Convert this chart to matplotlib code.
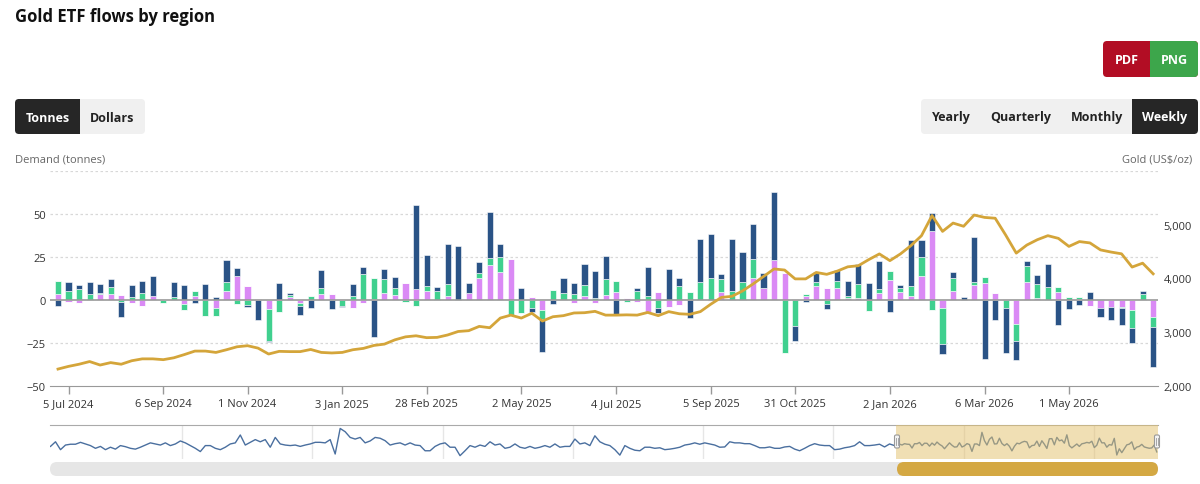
import numpy as np
import pandas as pd
import matplotlib
matplotlib.use("Agg")
import matplotlib.pyplot as plt
from matplotlib.patches import FancyBboxPatch, Rectangle
from matplotlib.ticker import FuncFormatter

# weekly flows (tonnes), first week 28 Jun 2024
start_date = "2024-06-28"
north_america = [-3.5, 5.3, 2.1, 7.0, 5.1, 4.5, -9.0, 7.0, 6.8, 11.5,
                 0.0, 8.8, 8.4, -2.0, 9.4, 1.6, 13.0, 4.5, -1.0, -11.5,
                 -0.8, 10.0, 1.2, -5.5, -4.5, 10.4, -5.3, -0.7, 7.2, 3.9,
                 -21.5, 5.7, 6.0, 0.0, 48.8, 18.2, 2.1, 23.2, 31.6, 5.9,
                 6.6, 27.0, 7.6, 0.0, 7.0, -2.5, -19.5, -2.5, 8.8, 6.6,
                 12.3, 15.6, 13.3, -8.2, 0.0, 1.6, 16.6, -3.0, 17.8, 4.9,
                 -10.5, 25.0, 25.6, 2.9, 30.3, 17.6, 20.7, 8.8, 39.6, 0.0,
                 -8.4, -1.4, 5.9, -3.0, 6.6, 8.6, 11.7, 9.6, 16.0, -7.2,
                 1.4, 27.3, 10.0, 10.2, -5.9, 3.5, 1.8, 26.6, -34.6, -11.7,
                 -26.0, -11.3, 2.7, 5.3, 13.7, -14.6, -5.5, -3.0, 4.5, -4.9,
                 -7.6, -9.8, -8.6, 2.3, -23.2]
europe = [7.6, 5.1, 6.4, 3.3, 0.8, 4.1, -1.0, 1.6, 3.9, 0.0,
          -1.8, 1.5, -3.9, 2.7, -9.2, -4.5, 5.1, -2.3, -3.0, 0.0,
          -18.5, -7.0, 1.5, -1.6, 2.0, 3.7, 0.0, -3.5, 2.3, 15.2,
          12.0, 8.2, 4.1, -1.0, -3.7, 2.7, 5.3, 7.2, 0.0, 0.0,
          3.1, 3.9, 9.0, -8.8, -7.6, -4.7, -4.9, 6.0, 4.1, 3.1,
          6.3, 1.2, 9.4, 6.4, -1.0, 5.3, 2.5, -4.5, 0.0, 7.8,
          4.5, 10.2, 12.7, 7.8, 5.3, 10.2, 10.9, 0.0, 0.0, -30.7,
          -15.4, 1.6, 2.3, -2.3, 4.1, 1.4, 8.2, -6.8, 2.7, 5.1,
          2.5, 5.5, 10.9, -6.2, -21.0, 7.4, 0.0, 1.4, 3.1, 0.0,
          -4.7, -9.8, 9.6, 7.8, 7.4, 2.9, 1.6, 0.8, 0.0, 0.6,
          0.0, -1.0, -10.4, 3.1, -5.9]
asia = [3.1, -1.4, -2.0, 0.0, 3.1, 3.5, 2.9, -2.0, -3.7, 2.3,
        0.0, 0.0, -2.3, 2.3, 0.0, -4.7, 5.3, 14.0, 7.8, 0.6,
        -5.5, 0.0, 1.4, -1.8, 0.0, 3.3, 3.1, 0.0, -4.5, -2.0,
        0.6, 4.1, 2.9, 9.8, 6.4, 5.3, 0.0, 2.1, 0.0, 4.1,
        12.5, 20.5, 16.0, 23.8, 0.0, 1.8, -6.2, 0.0, 0.0, -1.8,
        2.3, -1.8, 2.9, 4.5, 1.0, -1.4, -7.2, 4.5, -3.9, -3.0,
        0.0, 0.0, -0.5, 4.3, 0.0, 0.0, 12.7, 6.8, 23.4, 15.6,
        0.5, 2.0, 8.0, 7.0, 6.8, 1.0, 1.2, 0.0, 3.7, 11.7,
        4.5, 2.3, 14.0, 40.2, -4.7, 5.3, 0.0, 8.8, 10.0, 4.1,
        0.6, -14.0, 10.2, 1.2, 0.0, 4.5, 0.0, 0.6, -3.7, -5.0,
        -3.9, -3.9, -6.2, 0.0, -9.8]
gold_price = [2310, 2360, 2400, 2450, 2385, 2430, 2400, 2465, 2500, 2500,
              2485, 2520, 2580, 2645, 2645, 2620, 2670, 2725, 2745, 2700,
              2590, 2640, 2635, 2635, 2675, 2620, 2610, 2620, 2670, 2695,
              2750, 2775, 2855, 2910, 2930, 2895, 2900, 2945, 3010, 3025,
              3105, 3080, 3260, 3315, 3260, 3350, 3205, 3285, 3305, 3355,
              3360, 3385, 3315, 3315, 3320, 3315, 3365, 3305, 3380, 3340,
              3330, 3380, 3520, 3645, 3665, 3765, 3895, 4035, 4175, 4155,
              3990, 3990, 4110, 4075, 4135, 4215, 4235, 4350, 4455, 4330,
              4455, 4610, 4795, 5170, 4875, 5030, 4970, 5180, 5135, 5120,
              4805, 4470, 4620, 4720, 4795, 4745, 4595, 4685, 4660, 4530,
              4490, 4457, 4210, 4283, 4084]

# navigator history (North America, tonnes), every 2 weeks before the main range
nav_history = [-3, 14, -15, 2, 5, 5, 12, 6, 0, -10, -3, -15, -6, -13, 0, -4, -10, -13, -6, 2,
               10, 6, 2, 10, 0, 6, 17, 10, 0, -10, -22, 0, 0, -10, -15, -6, 6, 10, 39, 2,
               12, 22, 14, 22, -6, 30, 6, 2, 0, 2, -3, 2, 6, 12, 12, 10, 22, -31, 63, 51,
               30, 24, 30, 10, 17, 30, 27, 18, 2, 7, 10, 2, 10, 2, 0,
               -19, -19, -3, 6, 10, -6, -6, -37, -19, 0, -6, 2, -3, 14, 2, 6, -10, -6, 6, -6,
               -10, -3, -10, -6, 0, -6, 6, -6, -3, -3, 24, 6, 10, 0, 36, 14, 5, 0, -15, -35,
               0, -10, -17, -19, -6, -6, -10, -8, -15, -13, -10, -6, 2, 5, 10, 5, 10, 6, 2, -6,
               -5, 14, 10, 10, 7, 7, 0, -8, -8, -5, -10, -10, -5, -3, -13,
               -19, -10, 0, 7, 2, 0, 0, -15, -13, -8, -5, 0, 14, 0, 0, 2, 5, -5, 6, 0]

tick_labels = ["5 Jul 2024", "6 Sep 2024", "1 Nov 2024", "3 Jan 2025", "28 Feb 2025",
               "2 May 2025", "4 Jul 2025", "5 Sep 2025", "31 Oct 2025", "2 Jan 2026",
               "6 Mar 2026", "1 May 2026"]
nav_years = ["2019-01-01", "2020-01-01", "2021-01-01", "2022-01-01", "2023-01-01",
             "2024-01-01", "2025-01-01", "2026-01-01"]

W, H = 1200, 485
c_na = "#2a5386"
c_eu = "#40d08f"
c_as = "#da8af5"
c_gold = "#d4a53a"


def px_box(x0, y0, x1, y1):
    return [x0 / W, 1 - y1 / H, (x1 - x0) / W, (y1 - y0) / H]


def week_of(date):
    return (pd.Timestamp(date) - pd.Timestamp(start_date)).days / 7.0


def button(ax, x0, y0, x1, y1, color, r=4):
    ax.add_patch(FancyBboxPatch((x0 + r, y0 + r), x1 - x0 - 2 * r, y1 - y0 - 2 * r,
                                boxstyle="round,pad=%d,rounding_size=%d" % (r, r),
                                facecolor=color, edgecolor="none"))


def main():
    plt.rcParams['font.family'] = ['Open Sans', 'DejaVu Sans']
    fig = plt.figure(figsize=(12, 4.85), dpi=100)

    # background layer in pixel coords
    bg = fig.add_axes([0, 0, 1, 1])
    bg.set_xlim(0, W)
    bg.set_ylim(H, 0)
    bg.set_axis_off()

    bg.text(15, 17, "Gold ETF flows by region", fontsize=12, fontweight="bold",
            color="#111111", va="center", ha="left")

    button(bg, 1103, 42, 1198, 78, "#b20d24")
    button(bg, 1150, 42, 1198, 78, "#3da64b")
    bg.add_patch(Rectangle((1150, 42), 20, 36, facecolor="#3da64b", edgecolor="none"))
    bg.text(1126.5, 60, "PDF", color="white", fontsize=9, fontweight="bold", ha="center", va="center")
    bg.text(1174, 60, "PNG", color="white", fontsize=9, fontweight="bold", ha="center", va="center")

    button(bg, 15, 100, 145, 135, "#f0f0f0")
    button(bg, 15, 100, 80, 135, "#262626")
    bg.add_patch(Rectangle((60, 100), 20, 35, facecolor="#262626", edgecolor="none"))
    bg.text(47.5, 118, "Tonnes", color="white", fontsize=9, fontweight="bold", ha="center", va="center")
    bg.text(112.5, 118, "Dollars", color="#222222", fontsize=9, fontweight="bold", ha="center", va="center")

    button(bg, 921, 100, 1198, 135, "#f0f0f0")
    button(bg, 1132, 100, 1198, 135, "#262626")
    bg.add_patch(Rectangle((1132, 100), 20, 35, facecolor="#262626", edgecolor="none"))
    for lab, xc in zip(["Yearly", "Quarterly", "Monthly"], [951, 1021, 1097]):
        bg.text(xc, 118, lab, color="#222222", fontsize=9, fontweight="bold", ha="center", va="center")
    bg.text(1165, 118, "Weekly", color="white", fontsize=9, fontweight="bold", ha="center", va="center")

    bg.text(15, 160, "Demand (tonnes)", color="#666666", fontsize=8, ha="left", va="center")
    bg.text(1192, 160, "Gold (US$/oz)", color="#666666", fontsize=8, ha="right", va="center")

    # main chart
    x = np.arange(len(north_america))
    na = np.array(north_america)
    eu = np.array(europe)
    asi = np.array(asia)

    ax = fig.add_axes(px_box(50, 172, 1158, 386.7))
    ax.patch.set_alpha(0)
    for lev in [75, 50, 25, -25]:
        ax.axhline(lev, color="#d8d8d8", lw=0.9, ls=(0, (2, 2)), zorder=0)

    pos_base = np.zeros(len(x))
    neg_base = np.zeros(len(x))
    for vals, col in [(asi, c_as), (eu, c_eu), (na, c_na)]:
        pos = np.where(vals > 0, vals, 0)
        neg = np.where(vals < 0, vals, 0)
        ax.bar(x, pos, bottom=pos_base, width=0.58, color=col, edgecolor="white", linewidth=0.4, zorder=2)
        ax.bar(x, neg, bottom=neg_base, width=0.58, color=col, edgecolor="white", linewidth=0.4, zorder=2)
        pos_base = pos_base + pos
        neg_base = neg_base + neg
    ax.axhline(0, color="#999999", lw=1.2, zorder=3)

    ax.set_xlim(-0.76, 104.46)
    ax.set_ylim(-50, 75)
    ax.set_yticks([-50, -25, 0, 25, 50])
    ax.tick_params(axis="y", length=0, pad=3, labelsize=8, labelcolor="#333333")
    ax.set_xticks([week_of(d) for d in tick_labels])
    ax.set_xticklabels(tick_labels)
    ax.tick_params(axis="x", length=6, width=1, color="#999999", pad=3, labelsize=8, labelcolor="#333333")
    for side in ["top", "right", "left"]:
        ax.spines[side].set_visible(False)
    ax.spines["bottom"].set_color("#999999")

    ax2 = ax.twinx()
    ax2.plot(x, gold_price, color=c_gold, lw=2, zorder=4)
    ax2.set_ylim(2000, 6000)
    ax2.set_yticks([2000, 3000, 4000, 5000])
    ax2.yaxis.set_major_formatter(FuncFormatter(lambda v, p: "{:,.0f}".format(v)))
    ax2.tick_params(axis="y", length=0, pad=4, labelsize=8, labelcolor="#333333")
    for side in ["top", "right", "left", "bottom"]:
        ax2.spines[side].set_visible(False)

    # navigator
    nav = fig.add_axes(px_box(50, 426, 1158, 460))
    hist_weeks = np.arange(-339, 0, 2)
    nav_x = np.concatenate([hist_weeks, x])
    nav_y = np.concatenate([np.array(nav_history, dtype=float), na])
    for d in nav_years:
        nav.axvline(week_of(d), color="#e6e6e6", lw=1, zorder=0)
    nav.plot(nav_x, nav_y, color="#4a6f9f", lw=1, zorder=2)
    nav.axvspan(-0.4, 104.5, color="#e3c06a", alpha=0.5, lw=0, zorder=3)
    nav.set_xlim(-339.2, 104.5)
    nav.set_ylim(-49.3, 75.7)
    nav.set_xticks([])
    nav.set_yticks([])
    for side in ["right", "left", "bottom"]:
        nav.spines[side].set_visible(False)
    nav.spines["top"].set_color("#aaaaaa")

    # handles and scrollbar
    top = fig.add_axes([0, 0, 1, 1], zorder=10)
    top.set_xlim(0, W)
    top.set_ylim(H, 0)
    top.set_axis_off()
    top.patch.set_visible(False)
    for hx in [897, 1157]:
        top.add_patch(FancyBboxPatch((hx - 2.5, 436), 5, 13, boxstyle="round,pad=0,rounding_size=1.5",
                                     facecolor="#f4f4f4", edgecolor="#999999", lw=0.8))
        top.plot([hx - 0.7, hx - 0.7], [439, 446], color="#999999", lw=0.6)
        top.plot([hx + 0.7, hx + 0.7], [439, 446], color="#999999", lw=0.6)
    button(top, 50, 463, 1158, 477, "#e6e6e6", r=7)
    button(top, 897, 463, 1158, 477, "#d4a843", r=7)

    fig.savefig("out.png", dpi=100)


if __name__ == "__main__":
    main()
